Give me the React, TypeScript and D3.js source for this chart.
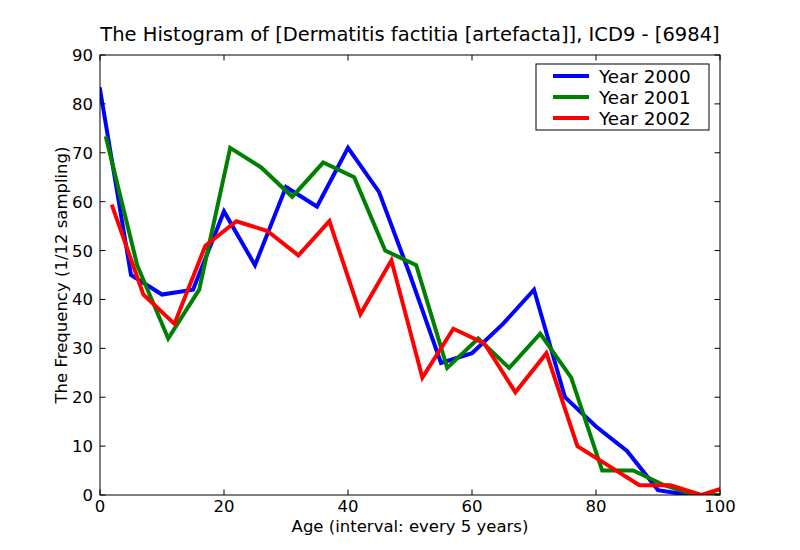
import * as d3 from "d3";

// values (counts per age group)
const ages2000 = [0, 5, 10, 15, 20, 25, 30, 35, 40, 45, 50, 55, 60, 65, 70, 75, 80, 85, 90, 95, 100];
const vals2000 = [83, 45, 41, 42, 58, 47, 63, 59, 71, 62, 45, 27, 29, 35, 42, 20, 14, 9, 1, 0, 0];

const ages2001 = [1, 6, 11, 16, 21, 26, 31, 36, 41, 46, 51, 56, 61, 66, 71, 76, 81, 86, 91, 96, 101];
const vals2001 = [73, 47, 32, 42, 71, 67, 61, 68, 65, 50, 47, 26, 32, 26, 33, 24, 5, 5, 2, 0, 0];

const ages2002 = [2, 7, 12, 17, 22, 27, 32, 37, 42, 47, 52, 57, 62, 67, 72, 77, 82, 87, 92, 97, 102];
const vals2002 = [59, 41, 35, 51, 56, 54, 49, 56, 37, 48, 24, 34, 31, 21, 29, 10, 6, 2, 2, 0, 2];

const seriesNames = ["Year 2000", "Year 2001", "Year 2002"];
const seriesColors = ["#0000ff", "#008000", "#ff0000"];

const xTicks = [0, 20, 40, 60, 80, 100];
const yTicks = [0, 10, 20, 30, 40, 50, 60, 70, 80, 90];

const title = "The Histogram of [Dermatitis factitia [artefacta]], ICD9 - [6984]";
const xLabel = "Age (interval: every 5 years)";
const yLabel = "The Frequency (1/12 sampling)";

export default function App() {
  const W = 800;
  const H = 550;
  const m = { left: 100, right: 80, top: 55, bottom: 55 };
  const x = d3.scaleLinear().domain([0, 100]).range([m.left, W - m.right]);
  const y = d3.scaleLinear().domain([0, 90]).range([H - m.bottom, m.top]);
  const font = "DejaVu Sans, sans-serif";
  const tickLen = 5.5;

  const series = [
    ages2000.map((a, i) => [a, vals2000[i]] as [number, number]),
    ages2001.map((a, i) => [a, vals2001[i]] as [number, number]),
    ages2002.map((a, i) => [a, vals2002[i]] as [number, number]),
  ];
  const line = d3.line<[number, number]>().x((d) => x(d[0])).y((d) => y(d[1]));

  const x0 = x(0), x1 = x(100), y0 = y(0), y1 = y(90);

  return (
    <svg width={W} height={H} style={{ position: "absolute", left: 0, top: 0, background: "#fff" }} fontFamily={font}>
      <defs>
        <clipPath id="plot">
          <rect x={x0} y={y1} width={x1 - x0} height={y0 - y1} />
        </clipPath>
      </defs>
      <text x={(x0 + x1) / 2} y={41} textAnchor="middle" fontSize={19.5} fill="#000">{title}</text>

      <g clipPath="url(#plot)">
        {series.map((s, i) => (
          <path key={i} d={line(s) ?? ""} fill="none" stroke={seriesColors[i]} strokeWidth={4}
            strokeLinejoin="miter" strokeLinecap="square" />
        ))}
      </g>

      {/* ticks on all four sides, pointing inward */}
      {xTicks.map((t) => (
        <g key={"x" + t}>
          <line x1={x(t)} x2={x(t)} y1={y0} y2={y0 - tickLen} stroke="#000" />
          <line x1={x(t)} x2={x(t)} y1={y1} y2={y1 + tickLen} stroke="#000" />
          <text x={x(t)} y={512} textAnchor="middle" fontSize={16.5}>{t}</text>
        </g>
      ))}
      {yTicks.map((t) => (
        <g key={"y" + t}>
          <line x1={x0} x2={x0 + tickLen} y1={y(t)} y2={y(t)} stroke="#000" />
          <line x1={x1} x2={x1 - tickLen} y1={y(t)} y2={y(t)} stroke="#000" />
          <text x={93} y={y(t) + 6} textAnchor="end" fontSize={16.5}>{t}</text>
        </g>
      ))}
      <rect x={x0} y={y1} width={x1 - x0} height={y0 - y1} fill="none" stroke="#000" strokeWidth={1} />

      <text x={(x0 + x1) / 2} y={532} textAnchor="middle" fontSize={16.5}>{xLabel}</text>
      <text transform={`translate(67,${(y0 + y1) / 2}) rotate(-90)`} textAnchor="middle" fontSize={16.5}>{yLabel}</text>

      {/* legend */}
      <rect x={536} y={64} width={173} height={66} fill="#fff" stroke="#000" strokeWidth={1} />
      {seriesNames.map((n, i) => (
        <g key={n}>
          <line x1={553} x2={589} y1={76 + i * 21} y2={76 + i * 21} stroke={seriesColors[i]} strokeWidth={4} />
          <text x={599} y={76 + i * 21 + 6.5} fontSize={18.4}>{n}</text>
        </g>
      ))}
    </svg>
  );
}
